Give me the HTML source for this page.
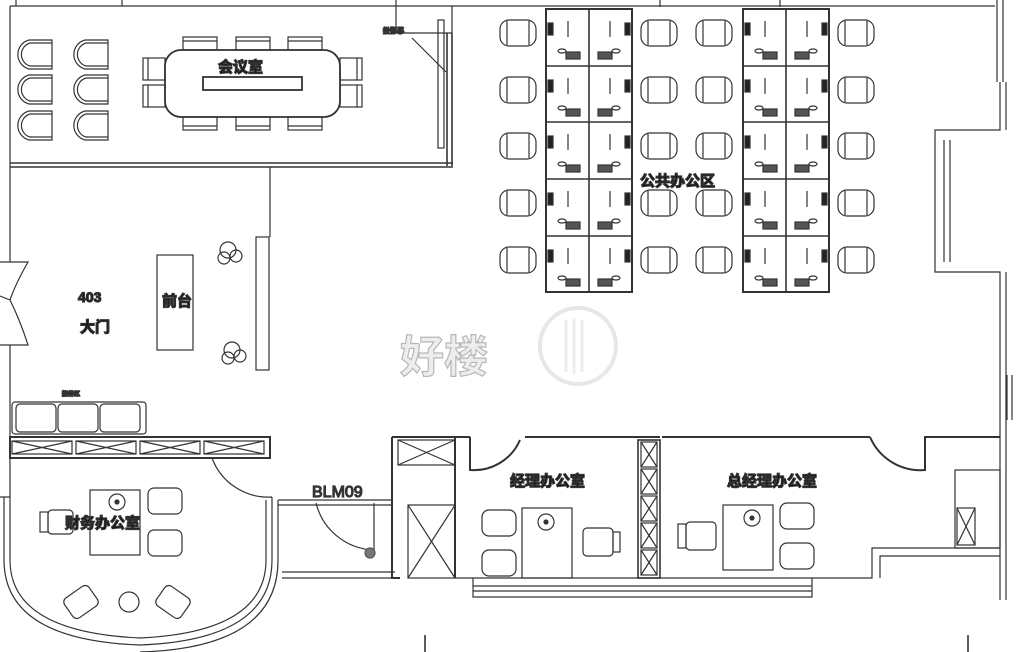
<!DOCTYPE html>
<html><head><meta charset="utf-8"><style>
html,body{margin:0;padding:0;background:#fff;}
svg{display:block;}
text{font-family:"Liberation Sans","Noto Sans CJK SC",sans-serif;fill:#111;}
</style></head><body>
<svg id="s" width="1020" height="652" viewBox="0 0 1020 652" xmlns="http://www.w3.org/2000/svg" fill="none" stroke="#333" stroke-width="1.2">
<!-- watermark -->
<g opacity="0.35">
<circle cx="578" cy="346" r="38" stroke="#bbb" stroke-width="4"/>
<path d="M566 320v52M574 318v56M582 320v52" stroke="#ccc" stroke-width="3"/>
<text x="400" y="372" font-size="44" style="fill:#ccc" font-weight="bold">好楼</text>
</g>
<!-- outer top -->
<path d="M10 6H995M16 0v6M122 0v6M660 0v7M780 0v7"/>
<!-- conference room -->
<path d="M10 6V262M10 345V440"/>
<path d="M10 163H453M10 167H453" stroke-width="1.6"/>
<rect x="438" y="20" width="6" height="128"/>
<path d="M447 33V166M452 33V166" stroke-width="1.6"/>
<path d="M396 0V33H452M412 38L446 72"/>
<text x="383" y="33" font-size="7" font-weight="bold">投影幕</text>
<rect x="165" y="50" width="175" height="67" rx="16" stroke-width="1.8"/>
<rect x="203" y="77" width="99" height="13" stroke-width="1.8"/>
<text x="218" y="72" font-size="15" font-weight="bold">会议室</text>
<!-- below conference -->
<path d="M270 167V237"/>
<rect x="256" y="237" width="13" height="133"/>
<rect x="157" y="255" width="36" height="95"/>
<text x="162" y="306" font-size="15" font-weight="bold">前台</text>
<!-- door 403 -->
<path d="M0 262H10L28 262Q15 285 10 300Q20 320 28 345H0M10 300Q5 298 0 296"/>
<text x="78" y="302" font-size="14" font-weight="bold">403</text>
<text x="80" y="332" font-size="15" font-weight="bold">大门</text>
<!-- sofa -->
<text x="62" y="396" font-size="6" font-weight="bold">接待区</text>
<rect x="12" y="402" width="134" height="32" rx="3"/>
<rect x="16" y="404" width="40" height="28" rx="4"/><rect x="58" y="404" width="40" height="28" rx="4"/><rect x="100" y="404" width="40" height="28" rx="4"/>
<!-- shelf -->
<rect x="10" y="437" width="260" height="21" stroke-width="2"/>
<g id="shelfX"></g>
<!-- finance room -->
<path d="M212 458A60 60 0 0 0 272 497M272 497V560Q272 640 140 645Q4 640 4 560V497M10 458V560Q10 632 140 638Q266 632 266 560V500" />
<path d="M278 500V560Q278 648 140 652M0 497H10"/>
<text x="65" y="528" font-size="15" font-weight="bold">财务办公室</text>
<rect x="90" y="490" width="50" height="65"/>
<circle cx="117" cy="502" r="8"/><circle cx="117" cy="502" r="2" fill="#333"/>
<rect x="40" y="512" width="8" height="20"/><rect x="48" y="510" width="25" height="24" rx="4"/>
<rect x="148" y="488" width="34" height="26" rx="6"/><rect x="148" y="530" width="34" height="26" rx="6"/>
<circle cx="129" cy="602" r="10"/>
<rect x="66" y="590" width="30" height="24" rx="5" transform="rotate(-35 81 602)"/>
<rect x="158" y="590" width="30" height="24" rx="5" transform="rotate(35 173 602)"/>
<!-- corridor / BLM09 -->
<path d="M278 500H392M278 505H392M282 572H395M282 578H395"/>
<text x="312" y="497" font-size="16" style="fill:#444">BLM09</text>
<path d="M316 503A62 62 0 0 0 374 550M374 503V550"/>
<circle cx="370" cy="553" r="5" fill="#777" stroke="#555"/>
<!-- manager block -->
<path d="M392 437H470M392 437V578H400M455 437V578" stroke-width="2"/>
<rect x="398" y="440" width="57" height="25"/><path d="M398 440L455 465M455 440L398 465"/>
<rect x="408" y="505" width="47" height="73"/><path d="M408 505L455 578M455 505L408 578"/>
<path d="M470 437V470A50 50 0 0 0 520 440M525 437H660" stroke-width="2"/>
<text x="510" y="486" font-size="15" font-weight="bold">经理办公室</text>
<rect x="522" y="508" width="50" height="70"/>
<circle cx="546" cy="522" r="8"/><circle cx="546" cy="522" r="2" fill="#333"/>
<rect x="482" y="510" width="34" height="26" rx="7"/><rect x="482" y="550" width="34" height="26" rx="7"/>
<rect x="583" y="528" width="30" height="28" rx="4"/><rect x="613" y="532" width="7" height="20"/>
<rect x="638" y="440" width="22" height="138" stroke-width="1.6"/>
<g id="colX"></g>
<path d="M455 578H812M473 578V597H812V578M473 586H812M473 591H812"/>
<!-- GM office -->
<path d="M662 437H870M870 437A55 55 0 0 0 925 470V437H1000" stroke-width="2"/>
<text x="727" y="486" font-size="15" font-weight="bold">总经理办公室</text>
<rect x="723" y="505" width="50" height="65"/>
<circle cx="752" cy="518" r="8"/><circle cx="752" cy="518" r="2" fill="#333"/>
<rect x="678" y="524" width="8" height="24"/><rect x="686" y="522" width="30" height="28" rx="4"/>
<rect x="780" y="503" width="34" height="26" rx="7"/><rect x="780" y="543" width="34" height="26" rx="7"/>
<path d="M812 578H872V548H1000M880 578V556H1000"/>
<rect x="955" y="470" width="45" height="78"/>
<rect x="957" y="508" width="18" height="37"/><path d="M957 508L975 545M975 508L957 545"/>
<!-- right outer walls -->
<path d="M997 0V82M1003 0V82M1000 82V130H935V272H1000V600M950 140V262M944 140V262M1006 82V130M1006 272V600M1007 375V420M1012 375V420" />
<path d="M452 6V33"/>
<path d="M425 635V652M968 635V652" stroke-width="1.6"/>
<!-- open office -->
<text x="640" y="186" font-size="15" font-weight="bold">公共办公区</text>
<g id="desks"></g>
<g id="conf"></g>
</svg>
<script>
var NS="http://www.w3.org/2000/svg";
function el(p,t,a){var e=document.createElementNS(NS,t);for(var k in a)e.setAttribute(k,a[k]);p.appendChild(e);return e;}
var d=document.getElementById("desks");
var rows=[9,66,122,179,236,292];
[546,743].forEach(function(x0){
 el(d,"rect",{x:x0,y:9,width:86,height:283,"stroke-width":2});
 el(d,"line",{x1:x0+43,y1:9,x2:x0+43,y2:292,"stroke-width":1.6});
 for(var r=0;r<5;r++){
  var y=rows[r];
  el(d,"line",{x1:x0,y1:y,x2:x0+86,y2:y,"stroke-width":1.6});
  el(d,"rect",{x:x0+2,y:y+14,width:5,height:12,fill:"#222"});
  el(d,"rect",{x:x0+79,y:y+14,width:5,height:12,fill:"#222"});
  el(d,"line",{x1:x0+22,y1:y+12,x2:x0+22,y2:y+28});
  el(d,"line",{x1:x0+64,y1:y+12,x2:x0+64,y2:y+28});
  el(d,"rect",{x:x0+20,y:y+43,width:14,height:7,fill:"#555"});
  el(d,"rect",{x:x0+52,y:y+43,width:14,height:7,fill:"#555"});
  el(d,"ellipse",{cx:x0+16,cy:y+42,rx:4,ry:2});
  el(d,"ellipse",{cx:x0+70,cy:y+42,rx:4,ry:2});
 }
});
[518,659,714,856].forEach(function(cx){
 for(var r=0;r<5;r++){
  var cy=rows[r]+24;
  el(d,"rect",{x:cx-18,y:cy-13,width:36,height:26,rx:9});
  el(d,"line",{x1:cx-11,y1:cy-12,x2:cx-11,y2:cy+12});
  el(d,"line",{x1:cx+11,y1:cy-12,x2:cx+11,y2:cy+12});
 }
});
var c=document.getElementById("conf");
[[14,40],[14,75],[14,111],[70,40],[70,75],[70,111]].forEach(function(p){
 el(c,"path",{d:"M"+(p[0]+38)+" "+p[1]+"H"+(p[0]+15)+"A15 15 0 0 0 "+(p[0]+15)+" "+(p[1]+29)+"H"+(p[0]+38)+"Z"});
 el(c,"path",{d:"M"+(p[0]+38)+" "+(p[1]+3)+"H"+(p[0]+16)+"A12 12 0 0 0 "+(p[0]+16)+" "+(p[1]+26)+"H"+(p[0]+38)});
});
[183,236,288].forEach(function(x){
 el(c,"rect",{x:x,y:37,width:34,height:13});el(c,"line",{x1:x,y1:41,x2:x+34,y2:41});
 el(c,"rect",{x:x,y:117,width:34,height:13});el(c,"line",{x1:x,y1:126,x2:x+34,y2:126});
});
[58,85].forEach(function(y){
 el(c,"rect",{x:143,y:y,width:22,height:22});el(c,"line",{x1:148,y1:y,x2:148,y2:y+22});
 el(c,"rect",{x:340,y:y,width:22,height:22});el(c,"line",{x1:357,y1:y,x2:357,y2:y+22});
});
el(c,"circle",{cx:228,cy:250,r:8});el(c,"circle",{cx:236,cy:256,r:6});el(c,"circle",{cx:224,cy:258,r:6});
el(c,"circle",{cx:232,cy:350,r:8});el(c,"circle",{cx:240,cy:356,r:6});el(c,"circle",{cx:228,cy:358,r:6});
var s=document.getElementById("shelfX");
for(var i=0;i<4;i++){var x=12+i*64;el(s,"rect",{x:x,y:441,width:60,height:13});el(s,"path",{d:"M"+x+" 441L"+(x+60)+" 454M"+(x+60)+" 441L"+x+" 454"});}
var cx=document.getElementById("colX");
for(var i=0;i<5;i++){var y=442+i*27;el(cx,"rect",{x:641,y:y,width:16,height:25});el(cx,"path",{d:"M641 "+y+"L657 "+(y+25)+"M657 "+y+"L641 "+(y+25)});}
</script>
</body></html>
